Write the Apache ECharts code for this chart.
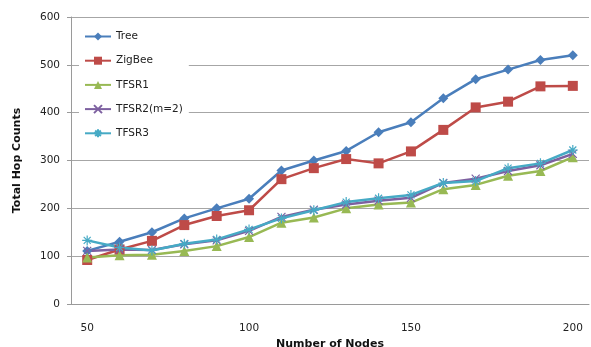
<!DOCTYPE html>
<html>
<head>
<meta charset="utf-8">
<script src="https://cdn.jsdelivr.net/npm/echarts@6/dist/echarts.min.js"></script>
<style>html,body{margin:0;padding:0;background:#fff;}#c{width:591px;height:347px;}</style>
</head>
<body>
<div id="c"></div>
<script>
// Number of nodes in the network
var nodes = [50, 60, 70, 80, 90, 100, 110, 120, 130, 140, 150, 160, 170, 180, 190, 200];
// Total hop counts per routing scheme
var tree   = [111, 130, 150, 179, 200, 220, 279, 300, 320, 359, 380, 430, 470, 490, 510, 520];
var zigbee = [92, 114, 132, 165, 184, 196, 261, 284, 303, 294, 319, 364, 411, 423, 455, 456];
var tfsr1  = [97, 102, 103, 111, 121, 140, 170, 181, 200, 208, 212, 240, 249, 268, 278, 307];
var tfsr2  = [111, 114, 113, 125, 133, 153, 182, 197, 208, 216, 222, 253, 262, 278, 290, 314];
var tfsr3  = [133, 118, 112, 126, 135, 156, 179, 196, 213, 221, 228, 253, 257, 284, 294, 322];
var yTicks = { min: 0, max: 600, step: 100 };

var FONT = 'DejaVu Sans';
var crossPath = 'path://M0,0L10,10M10,0L0,10';
var starPath = 'path://M0,5L10,5M5,0L5,10M1.5,1.5L8.5,8.5M8.5,1.5L1.5,8.5';

function lineSeries(name, data, color, symbol, size, strokeOnly) {
  return {
    name: name,
    type: 'line',
    data: data,
    symbol: symbol,
    symbolSize: size,
    showAllSymbol: true,
    lineStyle: { color: color, width: 2.5 },
    itemStyle: strokeOnly
      ? { color: color, borderColor: color, borderWidth: 1.2 }
      : { color: color, borderWidth: 0 },
    emphasis: { disabled: true },
    animation: false
  };
}

var chart = echarts.init(document.getElementById('c'));
chart.setOption({
  backgroundColor: '#ffffff',
  grid: { left: 71, right: 2, top: 17, bottom: 43, containLabel: false, outerBoundsMode: 'none' },
  legend: {
    orient: 'vertical',
    left: 79,
    top: 27,
    itemWidth: 26,
    itemHeight: 10,
    itemGap: 13.2,
    padding: [4, 6, 4, 5],
    backgroundColor: '#ffffff',
    textStyle: { fontFamily: FONT, fontSize: 10.5, color: '#222' },
    data: ['Tree', 'ZigBee', 'TFSR1', 'TFSR2(m=2)', 'TFSR3']
  },
  xAxis: {
    type: 'category',
    data: nodes,
    boundaryGap: true,
    name: 'Number of Nodes',
    nameLocation: 'middle',
    nameGap: 31,
    nameTextStyle: { fontFamily: FONT, fontSize: 11, fontWeight: 'bold', color: '#111' },
    axisLine: { lineStyle: { color: '#9a9a9a', width: 1 } },
    axisTick: { show: false },
    axisLabel: { interval: 4, margin: 19, fontFamily: FONT, fontSize: 10.5, color: '#222' },
    splitLine: { show: false }
  },
  yAxis: {
    type: 'value',
    min: yTicks.min,
    max: yTicks.max,
    interval: yTicks.step,
    name: 'Total Hop Counts',
    nameLocation: 'middle',
    nameGap: 48,
    nameTextStyle: { fontFamily: FONT, fontSize: 11, fontWeight: 'bold', color: '#111' },
    axisLine: { show: true, lineStyle: { color: '#9a9a9a', width: 1 } },
    axisTick: { show: true, length: 4, inside: false, lineStyle: { color: '#9a9a9a' } },
    axisLabel: { margin: 11, fontFamily: FONT, fontSize: 10.5, color: '#222' },
    splitLine: { lineStyle: { color: '#a6a6a6', width: 1 } }
  },
  series: [
    lineSeries('Tree', tree, '#4a7ebb', 'diamond', 10, false),
    lineSeries('ZigBee', zigbee, '#be4b48', 'rect', 10, false),
    lineSeries('TFSR1', tfsr1, '#98b954', 'triangle', 10, false),
    lineSeries('TFSR2(m=2)', tfsr2, '#7d60a0', crossPath, 8, true),
    lineSeries('TFSR3', tfsr3, '#46aac5', starPath, 10, true)
  ]
});
</script>
</body>
</html>
